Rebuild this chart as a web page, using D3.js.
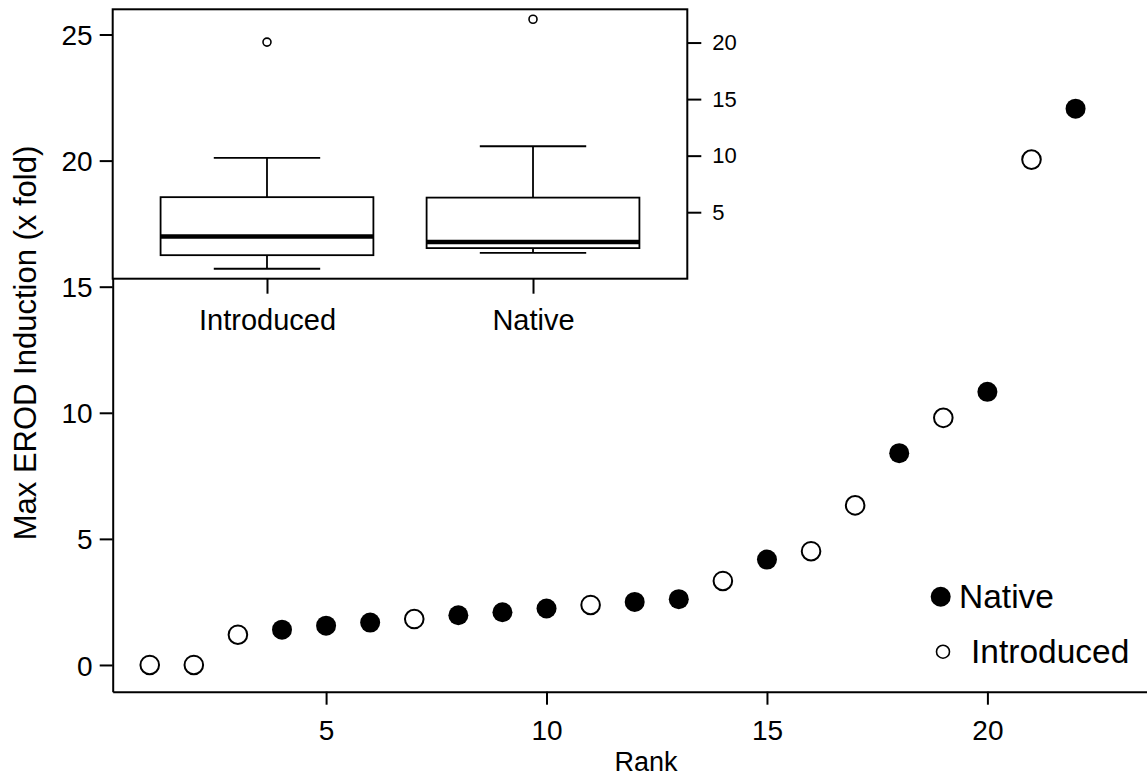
<!DOCTYPE html>
<html>
<head>
<meta charset="utf-8">
<script src="https://cdn.jsdelivr.net/npm/d3@7"></script>
<style>
  body { margin: 0; background: #fff; }
  svg text { font-family: "Liberation Sans", Arial, sans-serif; fill: #000; }
</style>
</head>
<body>
<svg id="svg1" width="1147" height="780"></svg>
<script>
// rank of each population and its max EROD induction (x fold)
const ranks = [1,2,3,4,5,6,7,8,9,10,11,12,13,14,15,16,17,18,19,20,21,22];
const maxErod = [0.0,0.0,1.2,1.4,1.56,1.68,1.82,1.97,2.09,2.24,2.38,2.5,2.61,3.33,4.18,4.51,6.33,8.4,9.8,10.83,20.04,22.06];
const origin = ["Introduced","Introduced","Introduced","Native","Native","Native","Introduced","Native","Native","Native",
                "Introduced","Native","Native","Introduced","Native","Introduced","Introduced","Native","Introduced","Native",
                "Introduced","Native"];
const groups = ["Introduced","Native"];
const mainYTicks = [0,5,10,15,20,25];
const mainXTicks = [5,10,15,20];
const insetYTicks = [5,10,15,20];
const legendLabels = ["Native","Introduced"];

const data = ranks.map((r, i) => ({rank: r, value: maxErod[i], origin: origin[i]}));

const svg = d3.select("#svg1");

// main scatter scales
const x = d3.scaleLinear().domain([0.16, 23.62]).range([112.7, 1147]);
const y = d3.scaleLinear().domain([-1.06, 26]).range([691.7, 9.3]);

// x axis
const xAxis = svg.append("g")
  .attr("transform", "translate(0,691.7)")
  .call(d3.axisBottom(x).tickValues(mainXTicks).tickSize(13).tickPadding(15).tickSizeOuter(0));
// y axis
const yAxis = svg.append("g")
  .attr("transform", "translate(112.7,0)")
  .call(d3.axisLeft(y).tickValues(mainYTicks).tickSize(13).tickPadding(7).tickSizeOuter(0));
[xAxis, yAxis].forEach(a => {
  a.select(".domain").attr("stroke", "#000").attr("stroke-width", 2);
  a.selectAll(".tick line").attr("stroke", "#000").attr("stroke-width", 2);
  a.selectAll(".tick text").style("font-size", "28px");
});
yAxis.selectAll(".tick text").attr("dy", "0.36em");

svg.append("text")
  .attr("x", 646).attr("y", 771)
  .attr("text-anchor", "middle")
  .style("font-size", "27px")
  .text("Rank");
svg.append("text")
  .attr("transform", "translate(36,343) rotate(-90)")
  .attr("text-anchor", "middle")
  .style("font-size", "31px")
  .text("Max EROD Induction (x fold)");

// points
svg.append("g").selectAll("circle")
  .data(data)
  .enter().append("circle")
  .attr("cx", d => x(d.rank))
  .attr("cy", d => y(d.value))
  .attr("r", d => d.origin == "Native" ? 10 : 9.3)
  .attr("fill", d => d.origin == "Native" ? "#000" : "#fff")
  .attr("stroke", "#000")
  .attr("stroke-width", d => d.origin == "Native" ? 0 : 2);

// legend
const legendY = [596.7, 651.7];
const lg = svg.append("g");
lg.selectAll("circle")
  .data(legendLabels)
  .enter().append("circle")
  .attr("cx", (d, i) => i == 0 ? 940.7 : 943)
  .attr("cy", (d, i) => legendY[i])
  .attr("r", (d, i) => i == 0 ? 10 : 6.5)
  .attr("fill", (d, i) => i == 0 ? "#000" : "#fff")
  .attr("stroke", "#000")
  .attr("stroke-width", (d, i) => i == 0 ? 0 : 1.6);
lg.selectAll("text")
  .data(legendLabels)
  .enter().append("text")
  .attr("x", (d, i) => i == 0 ? 959 : 971)
  .attr("y", (d, i) => legendY[i] + 11)
  .style("font-size", "33.5px")
  .text(d => d);

/* ---------- inset box plot ---------- */
const ix = d3.scaleLinear().domain([0.42, 2.58]).range([112.7, 687.3]);
const iy = d3.scaleLinear().domain([-0.88, 22.94]).range([278.7, 9.3]);
const inset = svg.append("g");

inset.append("rect")
  .attr("x", ix(0.42)).attr("y", iy(22.94))
  .attr("width", ix(2.58) - ix(0.42)).attr("height", iy(-0.88) - iy(22.94))
  .attr("fill", "#fff").attr("stroke", "#000").attr("stroke-width", 2);

// Tukey five number summary (as R boxplot does)
function fivenum(v) {
  const s = v.slice().sort(d3.ascending), n = s.length;
  const n4 = Math.floor((n + 3) / 2) / 2;
  return [1, n4, (n + 1) / 2, n + 1 - n4, n].map(d => 0.5 * (s[Math.floor(d) - 1] + s[Math.ceil(d) - 1]));
}

groups.forEach((g, gi) => {
  const vals = data.filter(d => d.origin == g).map(d => d.value);
  const f = fivenum(vals);
  const iqr = f[3] - f[1];
  const lo = d3.min(vals.filter(v => v >= f[1] - 1.5 * iqr));
  const hi = d3.max(vals.filter(v => v <= f[3] + 1.5 * iqr));
  const outl = vals.filter(v => v < lo || v > hi);
  const cx = ix(gi + 1), bw = ix(0.4) - ix(0), cw = bw / 2;
  const grp = inset.append("g").attr("stroke", "#000").attr("stroke-width", 1.8).attr("fill", "none");
  grp.append("line").attr("x1", cx).attr("x2", cx).attr("y1", iy(hi)).attr("y2", iy(f[3]));
  grp.append("line").attr("x1", cx).attr("x2", cx).attr("y1", iy(lo)).attr("y2", iy(f[1]));
  grp.append("line").attr("x1", cx - cw).attr("x2", cx + cw).attr("y1", iy(hi)).attr("y2", iy(hi));
  grp.append("line").attr("x1", cx - cw).attr("x2", cx + cw).attr("y1", iy(lo)).attr("y2", iy(lo));
  grp.append("rect").attr("x", cx - bw).attr("width", 2 * bw)
    .attr("y", iy(f[3])).attr("height", iy(f[1]) - iy(f[3])).attr("fill", "#fff");
  grp.append("line").attr("x1", cx - bw).attr("x2", cx + bw).attr("y1", iy(f[2])).attr("y2", iy(f[2]))
    .attr("stroke-width", 4.5);
  grp.selectAll("circle").data(outl).enter().append("circle")
    .attr("cx", cx).attr("cy", v => iy(v)).attr("r", 4).attr("stroke-width", 1.6);
});

// inset axes
const ixAxis = inset.append("g")
  .attr("transform", "translate(0,278.7)")
  .call(d3.axisBottom(ix).tickValues([1, 2]).tickFormat((d, i) => groups[i]).tickSize(15).tickPadding(16));
const iyAxis = inset.append("g")
  .attr("transform", "translate(687.3,0)")
  .call(d3.axisRight(iy).tickValues(insetYTicks).tickSize(14).tickPadding(11));
[ixAxis, iyAxis].forEach(a => {
  a.select(".domain").remove();
  a.selectAll(".tick line").attr("stroke", "#000").attr("stroke-width", 2);
});
ixAxis.selectAll(".tick text").style("font-size", "29px");
iyAxis.selectAll(".tick text").style("font-size", "22px");
</script>
</body>
</html>
